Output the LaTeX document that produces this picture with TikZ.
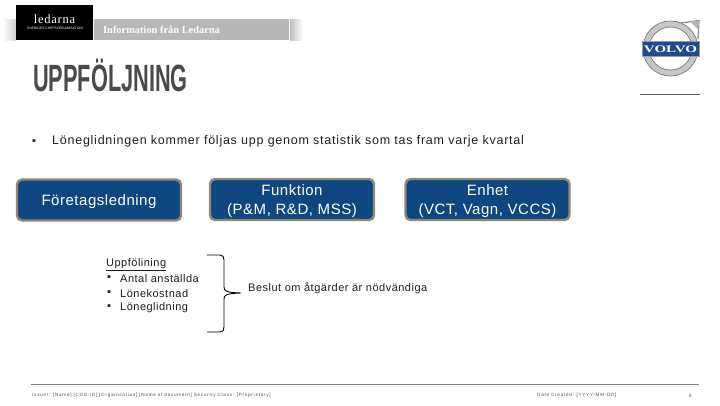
\documentclass[tikz,border=0pt]{standalone}
\usepackage{fontspec}
\setmainfont{Liberation Sans}
\newfontfamily\headserif{Liberation Serif}
\newfontfamily\boxfont[LetterSpace=3.5]{Liberation Sans}
\newfontfamily\bodyfont[LetterSpace=4.5]{Liberation Sans}
\newfontfamily\introfont[LetterSpace=6]{Liberation Sans}
\newfontfamily\footfont[LetterSpace=16]{Liberation Sans}
\newfontfamily\brandfont[LetterSpace=6]{Liberation Serif}
\usetikzlibrary{calc}
\definecolor{boxblue}{HTML}{0E4780}
\definecolor{boxrim}{HTML}{8E8874}
\definecolor{txt}{HTML}{1E1E1E}
\definecolor{titlegray}{HTML}{4A4A4A}
\definecolor{bandgray}{HTML}{B8B8B8}
\definecolor{volvoblue}{HTML}{1F4A8C}
\newcommand{\boxline}[1]{\raisebox{-1.8pt}[\height][\depth]{#1}}
\tikzset{
  bluebox/.style={draw=boxrim,line width=2.4pt,fill=boxblue,rounded corners=5pt,text=white,
    minimum width=164pt,minimum height=41pt,align=center,inner sep=0pt,font=\boxfont\fontsize{15pt}{19pt}\selectfont},
  body/.style={text=txt,anchor=west,inner sep=0pt,font=\bodyfont\fontsize{11pt}{13pt}\selectfont},
  foot/.style={text=black!70,anchor=west,inner sep=0pt,font=\footfont\fontsize{4.6pt}{5.5pt}\selectfont},
  rulegray/.style={draw=black!50,line width=0.7pt}
}
\begin{document}
\begin{tikzpicture}[x=1pt,y=-1pt]
\useasboundingbox (0,0) rectangle (720,405);
% header band
\fill[left color=white,right color=black!20] (3,19) rectangle (16,40);
\fill[bandgray] (94,19) rectangle (289,40);
\fill[left color=black!25,right color=white] (290,19) rectangle (303,40);
\fill[black] (16,5) rectangle (93,40);
\node[text=white,inner sep=0pt,font=\brandfont\fontsize{12.5pt}{14pt}\selectfont] (brand) at (54.5,19.5) {ledarna};
\node[text=white,inner sep=0pt,font=\fontsize{3.4pt}{4pt}\selectfont] (brandsub) at (55,28.7) {SVERIGES CHEFSORGANISATION};
\node[text=white,anchor=west,inner sep=0pt,font=\headserif\bfseries\fontsize{10.4pt}{12pt}\selectfont] (bandtext) at (103,30) {Information från Ledarna};
% title
\node[anchor=west,inner sep=0pt,text=titlegray,font=\bfseries\fontsize{38pt}{40pt}\selectfont] (title) at (33,75.5) {\scalebox{0.572}[1]{UPPFÖLJNING}};
% logo
\draw[line width=1.3pt,draw=black!45] (681,23) -- (699,20.5) -- (698,39);
\fill[black!30] (690,21.5) -- (699,20.5) -- (698.5,30) -- cycle;
\draw[line width=5.5pt,draw=black!22] (670.5,48.5) circle (24.5);
\draw[line width=0.7pt,draw=black!55] (670.5,48.5) circle (27.5);
\draw[line width=0.7pt,draw=black!55] (670.5,48.5) circle (21.5);
\node[draw=black!40,fill=volvoblue,text=white,minimum width=57pt,minimum height=14.5pt,inner sep=0pt,
  font=\headserif\bfseries\fontsize{10pt}{10pt}\selectfont] (volvo) at (670.5,48.8) {\scalebox{1.5}[1]{VOLVO}};
\coordinate (la) at (640,94); \coordinate (lb) at (700,94);
\draw[rulegray,draw=black!65] (la) -- (lb);
% bullet line
\node[body] (bul) at (32,142) {▪};
\node[body,font=\introfont\fontsize{12.5pt}{14pt}\selectfont] (intro) at (52,141.5) {Löneglidningen kommer följas upp genom statistik som tas fram varje kvartal};
% boxes
\node[bluebox] (b1) at (99,200) {\boxline{Företagsledning}};
\node[bluebox] (b2) at (292,199.5) {\boxline{Funktion}\\\boxline{(P\&M, R\&D, MSS)}};
\node[bluebox] (b3) at (487.5,199.5) {\boxline{Enhet}\\\boxline{(VCT, Vagn, VCCS)}};
% list
\node[body] (l0) at (106,264.5) {\underline{Uppfölining}};
\node[body] (d1) at (107,278.5) {▪};
\node[body] (l1) at (120,279) {Antal anställda};
\node[body] (d2) at (107,292.6) {▪};
\node[body] (l2) at (120,293.5) {Lönekostnad};
\node[body] (d3) at (107,307.5) {▪};
\node[body] (l3) at (120,308) {Löneglidning};
% bracket
\coordinate (bt) at (207,255); \coordinate (bb) at (207,332); \coordinate (tip) at (241,293);
\draw[line width=0.9pt,black] (bt) -- (220,255) .. controls (223,255) and (224,257) .. (224,260)
  -- (224,287) .. controls (224,291) and (226,292.5) .. (tip)
  .. controls (226,293.5) and (224,295) .. (224,299) -- (224,327)
  .. controls (224,330) and (223,332) .. (220,332) -- (bb);
\node[body] (dec) at (248,288.5) {Beslut om åtgärder är nödvändiga};
% footer
\coordinate (fa) at (31,384); \coordinate (fb) at (699,384);
\draw[rulegray] (fa) -- (fb);
\node[foot] (f1) at (32,395) {Issuer: [Name] [CDS-ID] [Organisation] [Name of document] Security Class: [Proprietary]};
\node[foot] (f2) at (537,395) {Date Created: [YYYY-MM-DD]};
\node[foot] (f3) at (689,395.5) {8};
\end{tikzpicture}
\end{document}
